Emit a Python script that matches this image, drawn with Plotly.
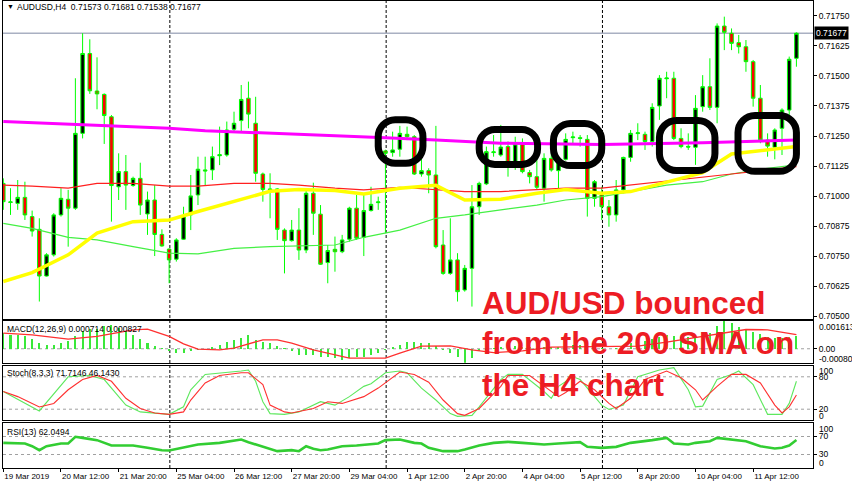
import plotly.graph_objects as go

# ---------------- data ----------------
bars = list(range(111))
date_tick_bars = [0, 8, 16, 24, 32, 40, 48, 56, 64, 72, 80, 88, 96, 104]
date_tick_text = ["19 Mar 2019", "20 Mar 12:00", "21 Mar 20:00", "25 Mar 04:00", "26 Mar 12:00",
                  "27 Mar 20:00", "29 Mar 04:00", "1 Apr 12:00", "2 Apr 20:00", "4 Apr 04:00",
                  "5 Apr 12:00", "8 Apr 20:00", "10 Apr 04:00", "11 Apr 12:00"]

open_ = [0.71053, 0.70974, 0.70970, 0.70995, 0.70915, 0.70862, 0.70668, 0.70756, 0.70922, 0.70987,
         0.70950, 0.71261, 0.71593, 0.71437, 0.71423, 0.71330, 0.71039, 0.71102, 0.71044, 0.71074,
         0.70926, 0.70984, 0.70841, 0.70780, 0.70738, 0.70821, 0.70922, 0.71005, 0.71109, 0.71109,
         0.71168, 0.71171, 0.71278, 0.71314, 0.71407, 0.71303, 0.71092, 0.71030, 0.71030, 0.70859,
         0.70815, 0.70859, 0.70776, 0.71012, 0.70925, 0.70724, 0.70779, 0.70769, 0.70821, 0.70950,
         0.70829, 0.70940, 0.70973, 0.71188, 0.71181, 0.71195, 0.71257, 0.71247, 0.71092, 0.71106,
         0.71088, 0.70797, 0.70679, 0.70735, 0.70610, 0.70700, 0.70956, 0.71051, 0.71181, 0.71171,
         0.71206, 0.71123, 0.71217, 0.71098, 0.71081, 0.71033, 0.71157, 0.71106, 0.71153, 0.71243,
         0.71243, 0.71236, 0.70991, 0.71005, 0.70956, 0.70922, 0.71026, 0.71161, 0.71260, 0.71257,
         0.71227, 0.71375, 0.71488, 0.71490, 0.71240, 0.71207, 0.71203, 0.71372, 0.71455, 0.71369,
         0.71707, 0.71677, 0.71638, 0.71621, 0.71559, 0.71407, 0.71233, 0.71203, 0.71282, 0.71358,
         0.71573]
high = [0.71074, 0.71033, 0.71067, 0.71060, 0.70940, 0.70908, 0.70763, 0.70929, 0.71033, 0.71026,
        0.71490, 0.71677, 0.71652, 0.71577, 0.71427, 0.71337, 0.71178, 0.71171, 0.71081, 0.71139,
        0.71019, 0.71046, 0.70862, 0.70783, 0.70825, 0.70956, 0.71088, 0.71164, 0.71164, 0.71206,
        0.71289, 0.71310, 0.71351, 0.71462, 0.71476, 0.71413, 0.71098, 0.71095, 0.71033, 0.70866,
        0.70901, 0.70950, 0.71033, 0.71056, 0.70963, 0.70797, 0.70832, 0.70839, 0.70956, 0.71005,
        0.71012, 0.71039, 0.70998, 0.71193, 0.71268, 0.71292, 0.71289, 0.71254, 0.71157, 0.71116,
        0.71292, 0.70859, 0.70908, 0.70763, 0.70714, 0.71046, 0.71060, 0.71206, 0.71254, 0.71296,
        0.71227, 0.71247, 0.71240, 0.71109, 0.71185, 0.71178, 0.71178, 0.71164, 0.71261, 0.71268,
        0.71254, 0.71254, 0.71067, 0.71039, 0.70984, 0.71067, 0.71164, 0.71275, 0.71303, 0.71268,
        0.71386, 0.71503, 0.71517, 0.71517, 0.71282, 0.71261, 0.71420, 0.71503, 0.71573, 0.71718,
        0.71746, 0.71697, 0.71670, 0.71649, 0.71566, 0.71462, 0.71261, 0.71282, 0.71365, 0.71580,
        0.71681]
low = [0.70943, 0.70922, 0.70943, 0.70901, 0.70832, 0.70562, 0.70666, 0.70749, 0.70915, 0.70790,
       0.70943, 0.71240, 0.71425, 0.71361, 0.71217, 0.70894, 0.70984, 0.70943, 0.71039, 0.70922,
       0.70839, 0.70751, 0.70790, 0.70638, 0.70728, 0.70818, 0.70859, 0.70963, 0.71046, 0.71067,
       0.71129, 0.71164, 0.71268, 0.71268, 0.71282, 0.71060, 0.70977, 0.70908, 0.70818, 0.70679,
       0.70811, 0.70735, 0.70763, 0.70839, 0.70714, 0.70638, 0.70686, 0.70763, 0.70811, 0.70818,
       0.70751, 0.70936, 0.70943, 0.70846, 0.71164, 0.71164, 0.71233, 0.71088, 0.71081, 0.71012,
       0.70783, 0.70673, 0.70673, 0.70562, 0.70603, 0.70541, 0.70922, 0.71046, 0.71164, 0.71164,
       0.71081, 0.71109, 0.71095, 0.71053, 0.71026, 0.70977, 0.71102, 0.71026, 0.71148, 0.71220,
       0.71206, 0.70915, 0.70956, 0.70901, 0.70873, 0.70894, 0.71012, 0.71143, 0.71233, 0.71192,
       0.71206, 0.71317, 0.71407, 0.71233, 0.71199, 0.71192, 0.71130, 0.71351, 0.71358, 0.71303,
       0.71607, 0.71607, 0.71593, 0.71517, 0.71372, 0.71220, 0.71164, 0.71153, 0.71171, 0.71317,
       0.71538]
close = [0.70977, 0.70976, 0.70995, 0.70922, 0.70855, 0.70668, 0.70756, 0.70922, 0.70991, 0.70950,
         0.71261, 0.71593, 0.71438, 0.71425, 0.71335, 0.71044, 0.71102, 0.71046, 0.71074, 0.70963,
         0.70984, 0.70841, 0.70793, 0.70735, 0.70818, 0.70918, 0.71001, 0.71112, 0.71105, 0.71164,
         0.71172, 0.71275, 0.71303, 0.71402, 0.71341, 0.71095, 0.71028, 0.71027, 0.70862, 0.70815,
         0.70859, 0.70776, 0.71012, 0.70929, 0.70717, 0.70774, 0.70769, 0.70818, 0.70950, 0.70825,
         0.70940, 0.70966, 0.70976, 0.71178, 0.71192, 0.71261, 0.71247, 0.71092, 0.71106, 0.71088,
         0.70790, 0.70679, 0.70735, 0.70603, 0.70700, 0.70956, 0.71053, 0.71185, 0.71184, 0.71204,
         0.71123, 0.71217, 0.71102, 0.71081, 0.71037, 0.71157, 0.71109, 0.71150, 0.71236, 0.71246,
         0.71240, 0.70991, 0.71060, 0.70956, 0.70922, 0.71026, 0.71161, 0.71261, 0.71263, 0.71227,
         0.71369, 0.71490, 0.71491, 0.71240, 0.71206, 0.71204, 0.71365, 0.71455, 0.71369, 0.71707,
         0.71681, 0.71635, 0.71621, 0.71559, 0.71407, 0.71233, 0.71208, 0.71275, 0.71358, 0.71569,
         0.71677]

ma_bars = [0, 4, 9, 13, 18, 23, 27, 32, 37, 41, 46, 50, 55, 60, 64, 69, 74, 78, 83, 87, 92, 97, 101, 106, 110]
ma_red = [0.71046, 0.71042, 0.71033, 0.71053, 0.71053, 0.71042, 0.71042, 0.71053, 0.71053, 0.71046,
          0.71033, 0.71026, 0.71037, 0.71028, 0.71019, 0.71019, 0.71026, 0.71033, 0.71033, 0.71046,
          0.71060, 0.71078, 0.71092, 0.71109, 0.71123]
ma_green = [0.70887, 0.70866, 0.70829, 0.70818, 0.70790, 0.70763, 0.70760, 0.70783, 0.70790, 0.70792,
            0.70797, 0.70829, 0.70859, 0.70908, 0.70922, 0.70943, 0.70963, 0.70984, 0.70998, 0.71019,
            0.71046, 0.71060, 0.71092, 0.71116, 0.71130]
ma_yellow = [0.70645, 0.70682, 0.70756, 0.70846, 0.70894, 0.70901, 0.70936, 0.70977, 0.71020, 0.71028,
             0.71023, 0.71009, 0.71033, 0.71045, 0.70984, 0.70987, 0.71012, 0.71028, 0.71012, 0.71019,
             0.71060, 0.71098, 0.71175, 0.71192, 0.71206]
sma200_bars = [0, 14, 23, 28, 41, 53, 60, 65, 69, 83, 97, 110]
sma200 = [0.71310, 0.71292, 0.71282, 0.71272, 0.71258, 0.71243, 0.71233, 0.71227, 0.71220, 0.71215,
          0.71222, 0.71233]

# MACD (values in units of 1e-4)
macd_main = [9.1, 8.1, 8.1, 7.2, 5.6, 3.3, 2.3, 2.3, 3.3, 4.3,
             7.2, 10.1, 11.4, 11.4, 13.0, 13.9, 12.0, 10.1, 8.1, 5.6,
             3.3, 1.4, 0.2, -1.5, -2.5, -2.5, -1.5, -0.6, -0.2, 1.0,
             2.3, 3.7, 5.2, 6.2, 8.1, 5.2, 3.7, 3.3, 1.4, 0.4,
             -1.5, -3.5, -3.5, -3.5, -4.5, -4.5, -5.4, -6.4, -5.4, -4.5,
             -4.5, -3.5, -2.5, -0.6, 1.0, 2.3, 3.7, 3.7, 3.3, 3.3,
             1.4, -0.6, -2.5, -4.5, -8.09, -5.5, -1.5, -0.5, 0.5, 1.2,
             1.2, 1.6, 1.2, 0.8, 0.4, 0.8, 0.8, 0.8, 1.6, 2.0,
             2.3, 1.2, 0.8, 0.4, 0.0, 0.4, 1.6, 3.1, 3.9, 4.3,
             5.5, 7.0, 7.8, 7.4, 7.0, 7.0, 7.8, 9.0, 9.4, 13.5,
             16.13, 15.0, 12.5, 11.5, 10.0, 8.5, 7.0, 6.5, 6.3, 6.8,
             7.14]
macd_sig_bars = [0, 4, 9, 13, 18, 20, 23, 25, 27, 30, 32, 34, 36, 38, 40, 43, 46, 48, 50, 53, 55, 58,
                 62, 65, 68, 72, 76, 80, 84, 88, 92, 96, 100, 103, 106, 110]
macd_signal = [9.1, 8.1, 5.6, 7.2, 11.0, 11.4, 7.2, 2.9, -0.2, -0.6, 0.4, 2.9, 5.2, 5.2, 3.3, -0.6,
               -3.5, -5.4, -5.4, -5.4, -2.5, 1.5, 1.7, -0.6, -2.2, -1.2, 0.9, 1.2, 1.1, 1.5, 3.8,
               6.5, 9.5, 11.2, 11.0, 8.27]

# Stochastic (8,3,3)
stoch_k_bars = [0, 5, 9, 12, 14, 17, 19, 22, 23, 25, 26, 28, 31, 33, 34, 35, 36, 37, 39, 41, 44, 46,
                48, 50, 51, 53, 55, 56, 58, 60, 62, 63, 65, 66, 69, 70, 72, 75, 76, 77, 79, 80, 83,
                84, 86, 88, 91, 93, 95, 96, 97, 99, 101, 102, 104, 106, 108, 109, 110]
stoch_k = [52.8, 16.8, 80.0, 82.5, 74.9, 27.6, 15.0, 11.8, 10.5, 24.4, 56.0, 84.4, 87.5, 90.7, 92.6,
           71.7, 33.9, 11.8, 10.5, 15.0, 33.9, 27.6, 43.3, 62.3, 67.3, 87.5, 90.7, 87.5, 59.1, 37.0,
           11.8, 6.7, 8.6, 24.4, 74.9, 84.4, 84.4, 52.8, 40.2, 62.3, 80.0, 74.9, 27.6, 19.4, 27.6,
           80.0, 92.6, 97.0, 56.0, 24.4, 25.7, 74.9, 84.4, 90.7, 65.4, 10.5, 10.5, 30.7, 71.71]
stoch_d_bars = [0, 2, 5, 7, 9, 11, 13, 15, 17, 19, 21, 23, 25, 26, 28, 30, 33, 34, 36, 37, 39, 40, 43,
                45, 47, 50, 52, 54, 55, 57, 59, 61, 63, 64, 66, 69, 70, 73, 75, 77, 78, 80, 82, 84,
                85, 87, 89, 92, 94, 96, 97, 99, 101, 103, 105, 107, 108, 109, 110]
stoch_d = [52.8, 43.3, 24.0, 30.7, 56.0, 74.9, 82.5, 71.7, 40.2, 21.3, 13.1, 10.5, 15.0, 37.0, 68.6,
           82.5, 87.5, 87.5, 65.4, 27.6, 15.0, 13.1, 21.3, 33.9, 30.7, 43.3, 59.1, 78.1, 88.8, 84.4,
           70.0, 37.0, 11.8, 8.6, 21.3, 62.3, 82.5, 82.5, 62.3, 43.3, 50.9, 71.7, 56.0, 30.7, 21.3,
           40.2, 74.9, 90.7, 78.1, 56.0, 37.0, 62.3, 84.4, 84.4, 68.6, 27.6, 13.1, 24.4, 46.14]

# RSI (13)
rsi_bars = [0, 3, 4, 5, 6, 8, 9, 10, 11, 13, 15, 18, 20, 22, 23, 25, 27, 30, 32, 33, 34, 36, 37, 38,
            40, 41, 42, 43, 44, 45, 47, 49, 52, 53, 55, 57, 58, 59, 61, 63, 64, 66, 68, 70, 72, 75,
            77, 79, 80, 81, 83, 85, 87, 90, 92, 93, 95, 96, 98, 99, 101, 103, 105, 107, 108, 109, 110]
rsi = [55.9, 54.4, 48.5, 39.6, 48.5, 54.4, 54.4, 69.3, 67.0, 61.9, 50.0, 50.0, 44.8, 39.6, 38.9, 44.8,
       52.2, 55.9, 61.9, 63.3, 57.4, 47.0, 42.6, 37.4, 39.6, 37.4, 48.5, 42.6, 39.6, 41.1, 48.5, 50.0,
       54.4, 61.9, 63.3, 55.9, 54.4, 44.8, 37.4, 37.4, 41.1, 50.0, 55.9, 58.1, 55.9, 52.2, 54.4, 57.4,
       57.4, 47.0, 44.8, 47.0, 55.9, 61.9, 67.0, 54.4, 52.2, 55.9, 59.6, 67.0, 63.3, 59.6, 48.5, 43.3,
       44.8, 50.0, 62.05]

price_ticks = [0.70500, 0.70625, 0.70750, 0.70875, 0.71000, 0.71125, 0.71250, 0.71375, 0.71500,
               0.71625, 0.71750]
bid_price = 0.71677
separator_bars = [23, 53, 83]
# boxes drawn around the 200 SMA touches: (bar from, bar to, price low, price high)
circles = [(52.0, 58.2, 0.71137, 0.71318), (66.0, 74.1, 0.71132, 0.71277),
           (76.3, 83.0, 0.71127, 0.71302), (91.0, 98.7, 0.71107, 0.71314),
           (101.9, 110.0, 0.71103, 0.71335)]

# ---------------- layout helpers ----------------
W, H = 852, 485
ML, MR, MT, MB = 3, 39, 1, 17
PW, PH = W - ML - MR, H - MT - MB
XR = [-0.04, 112.3]
PX_PER_BAR = 7.21
PX_PER_PRICE = 24060.0
FONT = "Liberation Sans"


def px_x(px):
    return (px - ML) / PW


def px_y(py):
    return (H - MB - py) / PH


def ydom(top_px, bot_px):
    return [px_y(bot_px), px_y(top_px)]


def rrect(i0, i1, lo, hi, r_px=17):
    r_px = min(r_px, 0.45 * (i1 - i0) * PX_PER_BAR, 0.45 * (hi - lo) * PX_PER_PRICE)
    rx = r_px / PX_PER_BAR
    ry = r_px / PX_PER_PRICE
    k = 1 - 0.552
    return (f"M {i0 + rx},{hi} L {i1 - rx},{hi} "
            f"C {i1 - rx * k},{hi} {i1},{hi - ry * k} {i1},{hi - ry} "
            f"L {i1},{lo + ry} C {i1},{lo + ry * k} {i1 - rx * k},{lo} {i1 - rx},{lo} "
            f"L {i0 + rx},{lo} C {i0 + rx * k},{lo} {i0},{lo + ry * k} {i0},{lo + ry} "
            f"L {i0},{hi - ry} C {i0},{hi - ry * k} {i0 + rx * k},{hi} {i0 + rx},{hi} Z")


fig = go.Figure()

fig.add_trace(go.Candlestick(
    x=bars, open=open_, high=high, low=low, close=close, xaxis="x", yaxis="y",
    increasing=dict(line=dict(color="#00ff00", width=1), fillcolor="#000000"),
    decreasing=dict(line=dict(color="#00ff00", width=1), fillcolor="#ff0000"),
    whiskerwidth=0, hoverinfo="skip"))

fig.add_trace(go.Scatter(x=ma_bars, y=ma_green, mode="lines", line=dict(color="#44f044", width=1.2),
                         xaxis="x", yaxis="y", hoverinfo="skip"))
fig.add_trace(go.Scatter(x=ma_bars, y=ma_red, mode="lines", line=dict(color="#ff2020", width=1.2),
                         xaxis="x", yaxis="y", hoverinfo="skip"))
fig.add_trace(go.Scatter(x=ma_bars, y=ma_yellow, mode="lines", line=dict(color="#ffff00", width=3.5),
                         xaxis="x", yaxis="y", hoverinfo="skip"))
fig.add_trace(go.Scatter(x=sma200_bars, y=sma200, mode="lines", line=dict(color="#ff00ff", width=3),
                         xaxis="x", yaxis="y", hoverinfo="skip"))

# MACD
fig.add_trace(go.Bar(x=bars, y=[v * 1e-4 for v in macd_main], width=0.28,
                     marker=dict(color="#3ae83a", line=dict(width=0)), xaxis="x2", yaxis="y2",
                     hoverinfo="skip"))
fig.add_trace(go.Scatter(x=macd_sig_bars, y=[v * 1e-4 for v in macd_signal], mode="lines",
                         line=dict(color="#ff3030", width=1.3), xaxis="x2", yaxis="y2", hoverinfo="skip"))
# Stoch
fig.add_trace(go.Scatter(x=stoch_k_bars, y=stoch_k, mode="lines", line=dict(color="#5ee85e", width=1.1),
                         xaxis="x3", yaxis="y3", hoverinfo="skip"))
fig.add_trace(go.Scatter(x=stoch_d_bars, y=stoch_d, mode="lines", line=dict(color="#ff3030", width=1.1),
                         xaxis="x3", yaxis="y3", hoverinfo="skip"))
# RSI
fig.add_trace(go.Scatter(x=rsi_bars, y=rsi, mode="lines", line=dict(color="#32cd32", width=2.6),
                         xaxis="x4", yaxis="y4", hoverinfo="skip"))

shapes = []
shapes.append(dict(type="line", xref="x", yref="y", x0=XR[0], x1=XR[1], y0=bid_price, y1=bid_price,
                   line=dict(color="#a9b0c2", width=1.5), layer="below"))
for b in separator_bars:
    shapes.append(dict(type="line", xref="x", yref="paper", x0=b + 0.1, x1=b + 0.1, y0=0, y1=1,
                       line=dict(color="#000000", width=1, dash="3px,2px"), layer="below"))
shapes.append(dict(type="line", xref="x2", yref="y2", x0=XR[0], x1=XR[1], y0=0, y1=0,
                   line=dict(color="#a0a0a0", width=1, dash="3px,3px"), layer="below"))
for lv in (20, 80):
    shapes.append(dict(type="line", xref="x3", yref="y3", x0=XR[0], x1=XR[1], y0=lv, y1=lv,
                       line=dict(color="#a0a0a0", width=1, dash="3px,3px"), layer="below"))
for lv in (30, 70):
    shapes.append(dict(type="line", xref="x4", yref="y4", x0=XR[0], x1=XR[1], y0=lv, y1=lv,
                       line=dict(color="#a0a0a0", width=1, dash="3px,3px"), layer="below"))
for (i0, i1, lo, hi) in circles:
    shapes.append(dict(type="path", xref="x", yref="y", path=rrect(i0, i1, lo, hi),
                       line=dict(color="#000000", width=7), layer="above"))

small = dict(family=FONT, size=8.5, color="#000000")
ann = []
ann.append(dict(xref="paper", yref="paper", x=px_x(5), y=px_y(7), text="▼", showarrow=False,
                xanchor="left", yanchor="middle", font=dict(family=FONT, size=7, color="#000000")))
ann.append(dict(xref="paper", yref="paper", x=px_x(15), y=px_y(7),
                text="AUDUSD,H4  0.71573 0.71681 0.71538 0.71677", showarrow=False,
                xanchor="left", yanchor="middle", font=small))
ann.append(dict(xref="paper", yref="y", x=px_x(814), y=bid_price, text="0.71677", showarrow=False,
                xanchor="left", yanchor="middle", bgcolor="#000000", borderpad=1,
                font=dict(family=FONT, size=8.5, color="#ffffff")))
ann.append(dict(xref="paper", yref="paper", x=px_x(5), y=px_y(329), text="MACD(12,26,9) 0.000714 0.000827",
                showarrow=False, xanchor="left", yanchor="middle", font=small))
ann.append(dict(xref="paper", yref="paper", x=px_x(5), y=px_y(373), text="Stoch(8,3,3) 71.7146 46.1430",
                showarrow=False, xanchor="left", yanchor="middle", font=small))
ann.append(dict(xref="paper", yref="paper", x=px_x(5), y=px_y(432), text="RSI(13) 62.0494",
                showarrow=False, xanchor="left", yanchor="middle", font=small))
for txt, py in (("0.001613", 327), ("-0.000809", 358.5), ("100", 370.5), ("0", 415.5), ("100", 429), ("0", 463)):
    ann.append(dict(xref="paper", yref="paper", x=px_x(817), y=px_y(py), text=txt, showarrow=False,
                    xanchor="left", yanchor="middle", font=small))
big = dict(family=FONT, size=31.5, color="#ed1c24", weight="bold")
for txt, py in (("AUD/USD bounced", 303), ("from the 200 SMA on", 343), ("the H4 chart", 385)):
    ann.append(dict(xref="paper", yref="paper", x=px_x(480), y=px_y(py), text=txt, showarrow=False,
                    xanchor="left", yanchor="middle", font=big))

axis_common = dict(showline=True, mirror=True, linecolor="#000000", linewidth=1, showgrid=False,
                   zeroline=False, fixedrange=True, automargin=False)

fig.update_layout(
    template="none",
    width=W, height=H, margin=dict(l=ML, r=MR, t=MT, b=MB, pad=0, autoexpand=False),
    paper_bgcolor="#ffffff", plot_bgcolor="#ffffff", showlegend=False,
    font=small, bargap=0, shapes=shapes, annotations=ann,
    xaxis=dict(domain=[0, 1], range=XR, anchor="y", showticklabels=False, ticks="",
               rangeslider=dict(visible=False), **axis_common),
    xaxis2=dict(domain=[0, 1], matches="x", anchor="y2", showticklabels=False, ticks="", **axis_common),
    xaxis3=dict(domain=[0, 1], matches="x", anchor="y3", showticklabels=False, ticks="", **axis_common),
    xaxis4=dict(domain=[0, 1], matches="x", anchor="y4", showticklabels=True, tickvals=date_tick_bars,
                ticktext=date_tick_text, ticks="outside", ticklen=3, tickcolor="#000000",
                ticklabelposition="outside right", tickfont=dict(family=FONT, size=8, color="#000000"),
                **axis_common),
    yaxis=dict(domain=ydom(1, 319), anchor="x", side="right",
               range=[0.71250 - (319 - 136) / PX_PER_PRICE, 0.71250 + (136 - 1) / PX_PER_PRICE],
               tickvals=price_ticks, ticktext=[f"{v:.5f}" for v in price_ticks],
               ticks="outside", ticklen=3, tickcolor="#000000", tickfont=small, **axis_common),
    yaxis2=dict(domain=ydom(321, 362.7), anchor="x2", side="right", range=[-0.000809, 0.001613],
                tickvals=[0], ticktext=["0.00"], ticks="outside", ticklen=3, tickcolor="#000000",
                tickfont=small, **axis_common),
    yaxis3=dict(domain=ydom(366, 420), anchor="x3", side="right", range=[0, 100],
                tickvals=[20, 80], ticktext=["20", "80"], ticks="outside", ticklen=3,
                tickcolor="#000000", tickfont=small, **axis_common),
    yaxis4=dict(domain=ydom(423, 468), anchor="x4", side="right", range=[0, 100],
                tickvals=[30, 70], ticktext=["30", "70"], ticks="outside", ticklen=3,
                tickcolor="#000000", tickfont=small, **axis_common),
)

fig.write_html("out.html", config={"displayModeBar": False, "staticPlot": True},
               post_script="document.body.style.margin='0';document.body.style.overflow='hidden';")
